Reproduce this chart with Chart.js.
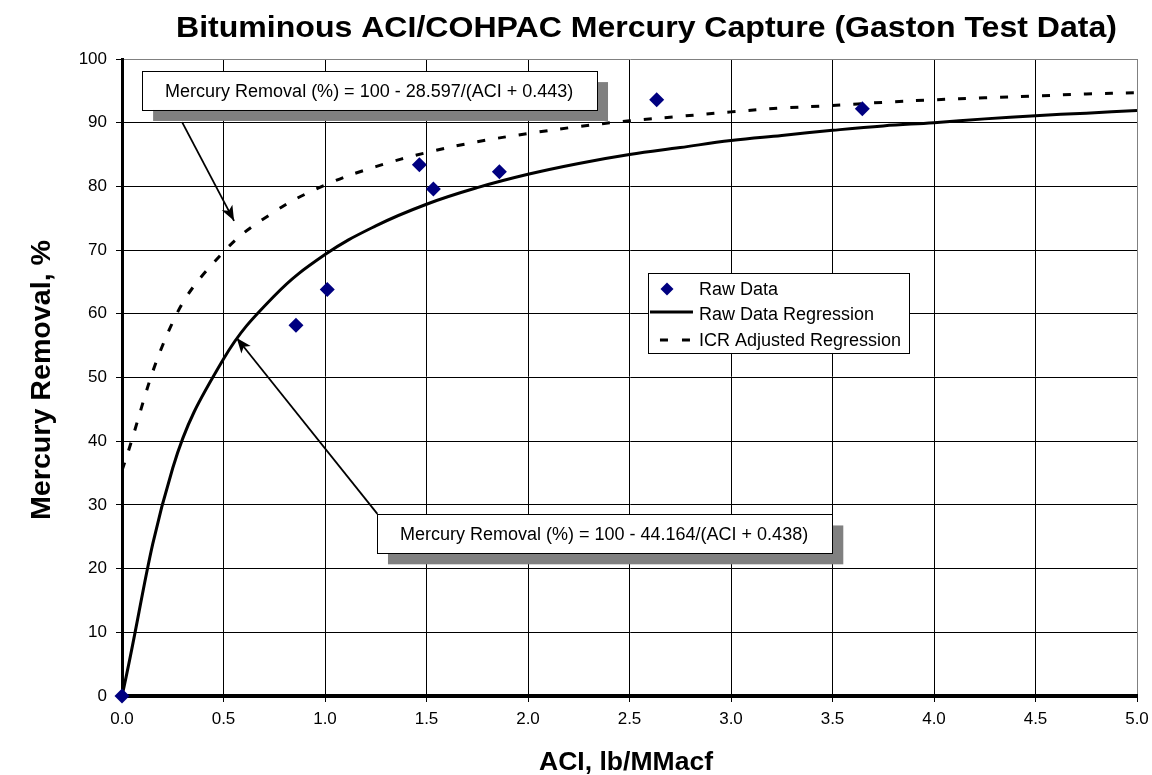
<!DOCTYPE html>
<html>
<head>
<meta charset="utf-8">
<script src="https://cdn.jsdelivr.net/npm/chart.js@4.4.1/dist/chart.umd.min.js"></script>
<style>
html,body{margin:0;padding:0;background:#ffffff;}
#wrap{width:1152px;height:775px;}
canvas{display:block;}
</style>
</head>
<body>
<div id="wrap"><canvas id="c" width="1152" height="775"></canvas></div>
<script>
// ---------- data ----------
const rawX = [0, 0.857, 1.011, 1.465, 1.534, 1.859, 2.634, 3.647];
const rawY = [0, 58.2, 63.8, 83.4, 79.6, 82.3, 93.6, 92.2];

const fitX     = [0, 0.25, 0.5, 0.75, 1.0, 1.25, 1.5, 1.75, 2.0, 2.25, 2.5, 2.75, 3.0, 3.25, 3.5, 3.75, 4.0, 4.25, 4.5, 4.75, 5.0];
const rawFitY  = [0, 35.8, 52.9, 62.8, 69.3, 73.8, 77.2, 79.8, 81.9, 83.6, 85.0, 86.1, 87.2, 88.0, 88.8, 89.5, 90.0, 90.6, 91.1, 91.5, 91.9];
const icrFitY  = [35.4, 58.7, 69.7, 76.0, 80.2, 83.1, 85.3, 87.0, 88.3, 89.4, 90.3, 91.0, 91.7, 92.3, 92.7, 93.2, 93.6, 93.9, 94.2, 94.5, 94.7];

const xTickValues = [0, 0.5, 1.0, 1.5, 2.0, 2.5, 3.0, 3.5, 4.0, 4.5, 5.0];
const xTickLabels = ['0.0', '0.5', '1.0', '1.5', '2.0', '2.5', '3.0', '3.5', '4.0', '4.5', '5.0'];
const yTickValues = [0, 10, 20, 30, 40, 50, 60, 70, 80, 90, 100];

const seriesNames = ['Raw Data', 'Raw Data Regression', 'ICR Adjusted Regression'];
const chartTitle = 'Bituminous ACI/COHPAC Mercury Capture (Gaston Test Data)';
const xAxisTitle = 'ACI, lb/MMacf';
const yAxisTitle = 'Mercury Removal, %';
const noteTexts = [
  'Mercury Removal (%) = 100 - 28.597/(ACI + 0.443)',
  'Mercury Removal (%) = 100 - 44.164/(ACI + 0.438)'
];

// ---------- drawing ----------
const FONT = "'Liberation Sans', Arial, sans-serif";
Chart.defaults.font.family = FONT;
Chart.defaults.color = '#000';

function toPts(xs, ys) { return xs.map((v, i) => ({x: v, y: ys[i]})); }

function fitText(ctx, text, cx, baseline, width, font, rotate) {
  ctx.save();
  ctx.font = font;
  const w = ctx.measureText(text).width;
  const s = width / w;
  ctx.translate(cx, baseline);
  if (rotate) ctx.rotate(-Math.PI / 2);
  ctx.scale(s, 1);
  ctx.textAlign = 'center';
  ctx.textBaseline = 'alphabetic';
  ctx.fillStyle = '#000';
  ctx.fillText(text, 0, 0);
  ctx.restore();
}

function arrow(ctx, x1, y1, x2, y2) {
  ctx.save();
  ctx.strokeStyle = '#000';
  ctx.fillStyle = '#000';
  ctx.lineWidth = 1.8;
  ctx.beginPath(); ctx.moveTo(x1, y1); ctx.lineTo(x2, y2); ctx.stroke();
  const a = Math.atan2(y2 - y1, x2 - x1), L = 15, W = 6;
  const c = Math.cos(a), s = Math.sin(a);
  ctx.beginPath();
  ctx.moveTo(x2, y2);
  ctx.lineTo(x2 - L * c + W * s, y2 - L * s - W * c);
  ctx.lineTo(x2 - L * 0.75 * c, y2 - L * 0.75 * s);
  ctx.lineTo(x2 - L * c - W * s, y2 - L * s + W * c);
  ctx.closePath();
  ctx.fill();
  ctx.restore();
}

function noteBox(ctx, x, y, box, text, textInset) {
  const l = x.getPixelForValue(box.x0), r = x.getPixelForValue(box.x1);
  const t = y.getPixelForValue(box.y1), b = y.getPixelForValue(box.y0);
  ctx.save();
  ctx.fillStyle = '#808080';
  ctx.fillRect(l + 11, t + 11, r - l, b - t);
  ctx.fillStyle = '#fff';
  ctx.fillRect(l, t, r - l, b - t);
  ctx.strokeStyle = '#000';
  ctx.lineWidth = 1;
  ctx.strokeRect(Math.round(l) + 0.5, Math.round(t) + 0.5, Math.round(r - l), Math.round(b - t));
  ctx.fillStyle = '#000';
  ctx.font = '18px ' + FONT;
  ctx.textAlign = 'left';
  ctx.textBaseline = 'middle';
  ctx.fillText(text, l + textInset, (t + b) / 2 + 1);
  ctx.restore();
}

const decor = {
  id: 'decor',
  afterDraw(chart) {
    const {ctx, scales: {x, y}} = chart;
    const px = v => x.getPixelForValue(v), py = v => y.getPixelForValue(v);

    // titles
    fitText(ctx, chartTitle, 646.5, 37, 941, 'bold 29px ' + FONT, false);
    fitText(ctx, xAxisTitle, 626, 770, 174, 'bold 26px ' + FONT, false);
    fitText(ctx, yAxisTitle, 50, 380, 280, 'bold 27px ' + FONT, true);

    // annotation 1 (ICR)
    arrow(ctx, px(0.296), py(90.1), px(0.552), py(74.6));
    noteBox(ctx, x, y, {x0: 0.099, x1: 2.34, y0: 92.0, y1: 98.1}, noteTexts[0], 23);
    // annotation 2 (raw)
    arrow(ctx, px(1.258), py(28.6), px(0.565), py(56.2));
    noteBox(ctx, x, y, {x0: 1.256, x1: 3.499, y0: 22.4, y1: 28.5}, noteTexts[1], 23);

    // legend
    const L = px(2.591), R = px(3.877), T = py(66.4), B = py(53.85);
    ctx.save();
    ctx.fillStyle = '#fff';
    ctx.fillRect(L, T, R - L, B - T);
    ctx.strokeStyle = '#000';
    ctx.lineWidth = 1;
    ctx.strokeRect(Math.round(L) + 0.5, Math.round(T) + 0.5, Math.round(R - L), Math.round(B - T));
    const rows = [T + 16, T + 41, T + 67];
    // diamond
    const dx = L + 19, dy = rows[0], dr = 6.5;
    ctx.fillStyle = '#000080';
    ctx.beginPath();
    ctx.moveTo(dx, dy - dr); ctx.lineTo(dx + dr, dy); ctx.lineTo(dx, dy + dr); ctx.lineTo(dx - dr, dy);
    ctx.closePath(); ctx.fill();
    // solid
    ctx.strokeStyle = '#000';
    ctx.lineWidth = 3;
    ctx.beginPath(); ctx.moveTo(L + 2, rows[1] - 2); ctx.lineTo(L + 45, rows[1] - 2); ctx.stroke();
    // dashed
    ctx.setLineDash([8, 14]);
    ctx.beginPath(); ctx.moveTo(L + 12, rows[2]); ctx.lineTo(L + 45, rows[2]); ctx.stroke();
    ctx.setLineDash([]);
    ctx.fillStyle = '#000';
    ctx.font = '18px ' + FONT;
    ctx.textAlign = 'left';
    ctx.textBaseline = 'middle';
    seriesNames.forEach((n, i) => ctx.fillText(n, L + 51, rows[i] + 1));
    ctx.restore();
  }
};

const chart = new Chart(document.getElementById('c'), {
  type: 'scatter',
  data: {
    datasets: [
      {
        label: seriesNames[0],
        data: toPts(rawX, rawY),
        pointStyle: 'rectRot',
        pointRadius: 7.5,
        pointHoverRadius: 7.5,
        backgroundColor: '#000080',
        borderColor: '#000080',
        borderWidth: 0,
        showLine: false,
        clip: false,
        order: 0
      },
      {
        label: seriesNames[1],
        data: toPts(fitX, rawFitY),
        showLine: true,
        borderColor: '#000',
        borderWidth: 3,
        pointRadius: 0,
        tension: 0.4,
        fill: false,
        order: 1
      },
      {
        label: seriesNames[2],
        data: toPts(fitX, icrFitY),
        showLine: true,
        borderColor: '#000',
        borderWidth: 3,
        borderDash: [8, 13],
        pointRadius: 0,
        tension: 0.4,
        fill: false,
        order: 2
      }
    ]
  },
  options: {
    responsive: false,
    devicePixelRatio: 1,
    animation: false,
    events: [],
    layout: {padding: {top: 59, right: 15, left: 0, bottom: 0}},
    plugins: {
      legend: {display: false},
      tooltip: {enabled: false},
      title: {display: false}
    },
    scales: {
      x: {
        type: 'linear',
        min: 0, max: 5,
        afterBuildTicks: s => { s.ticks = xTickValues.map(v => ({value: v})); },
        afterFit: s => { s.height = 79; s.paddingRight = 0; },
        ticks: {
          callback: (v, i) => xTickLabels[i],
          font: {size: 17},
          color: '#000',
          padding: 7,
          maxRotation: 0,
          autoSkip: false
        },
        grid: {
          color: c => (c.tick && c.tick.value === 5) ? '#808080' : '#000',
          lineWidth: 1,
          tickLength: 6,
          tickColor: '#000'
        },
        border: {display: true, color: '#000', width: 4}
      },
      y: {
        type: 'linear',
        min: 0, max: 100,
        afterBuildTicks: s => { s.ticks = yTickValues.map(v => ({value: v})); },
        afterFit: s => { s.width = 122; },
        ticks: {
          font: {size: 17},
          color: '#000',
          padding: 9
        },
        grid: {
          color: c => (c.tick && c.tick.value === 100) ? '#808080' : '#000',
          lineWidth: 1,
          tickLength: 6,
          tickColor: '#000'
        },
        border: {display: true, color: '#000', width: 3}
      }
    }
  },
  plugins: [decor]
});
</script>
</body>
</html>
